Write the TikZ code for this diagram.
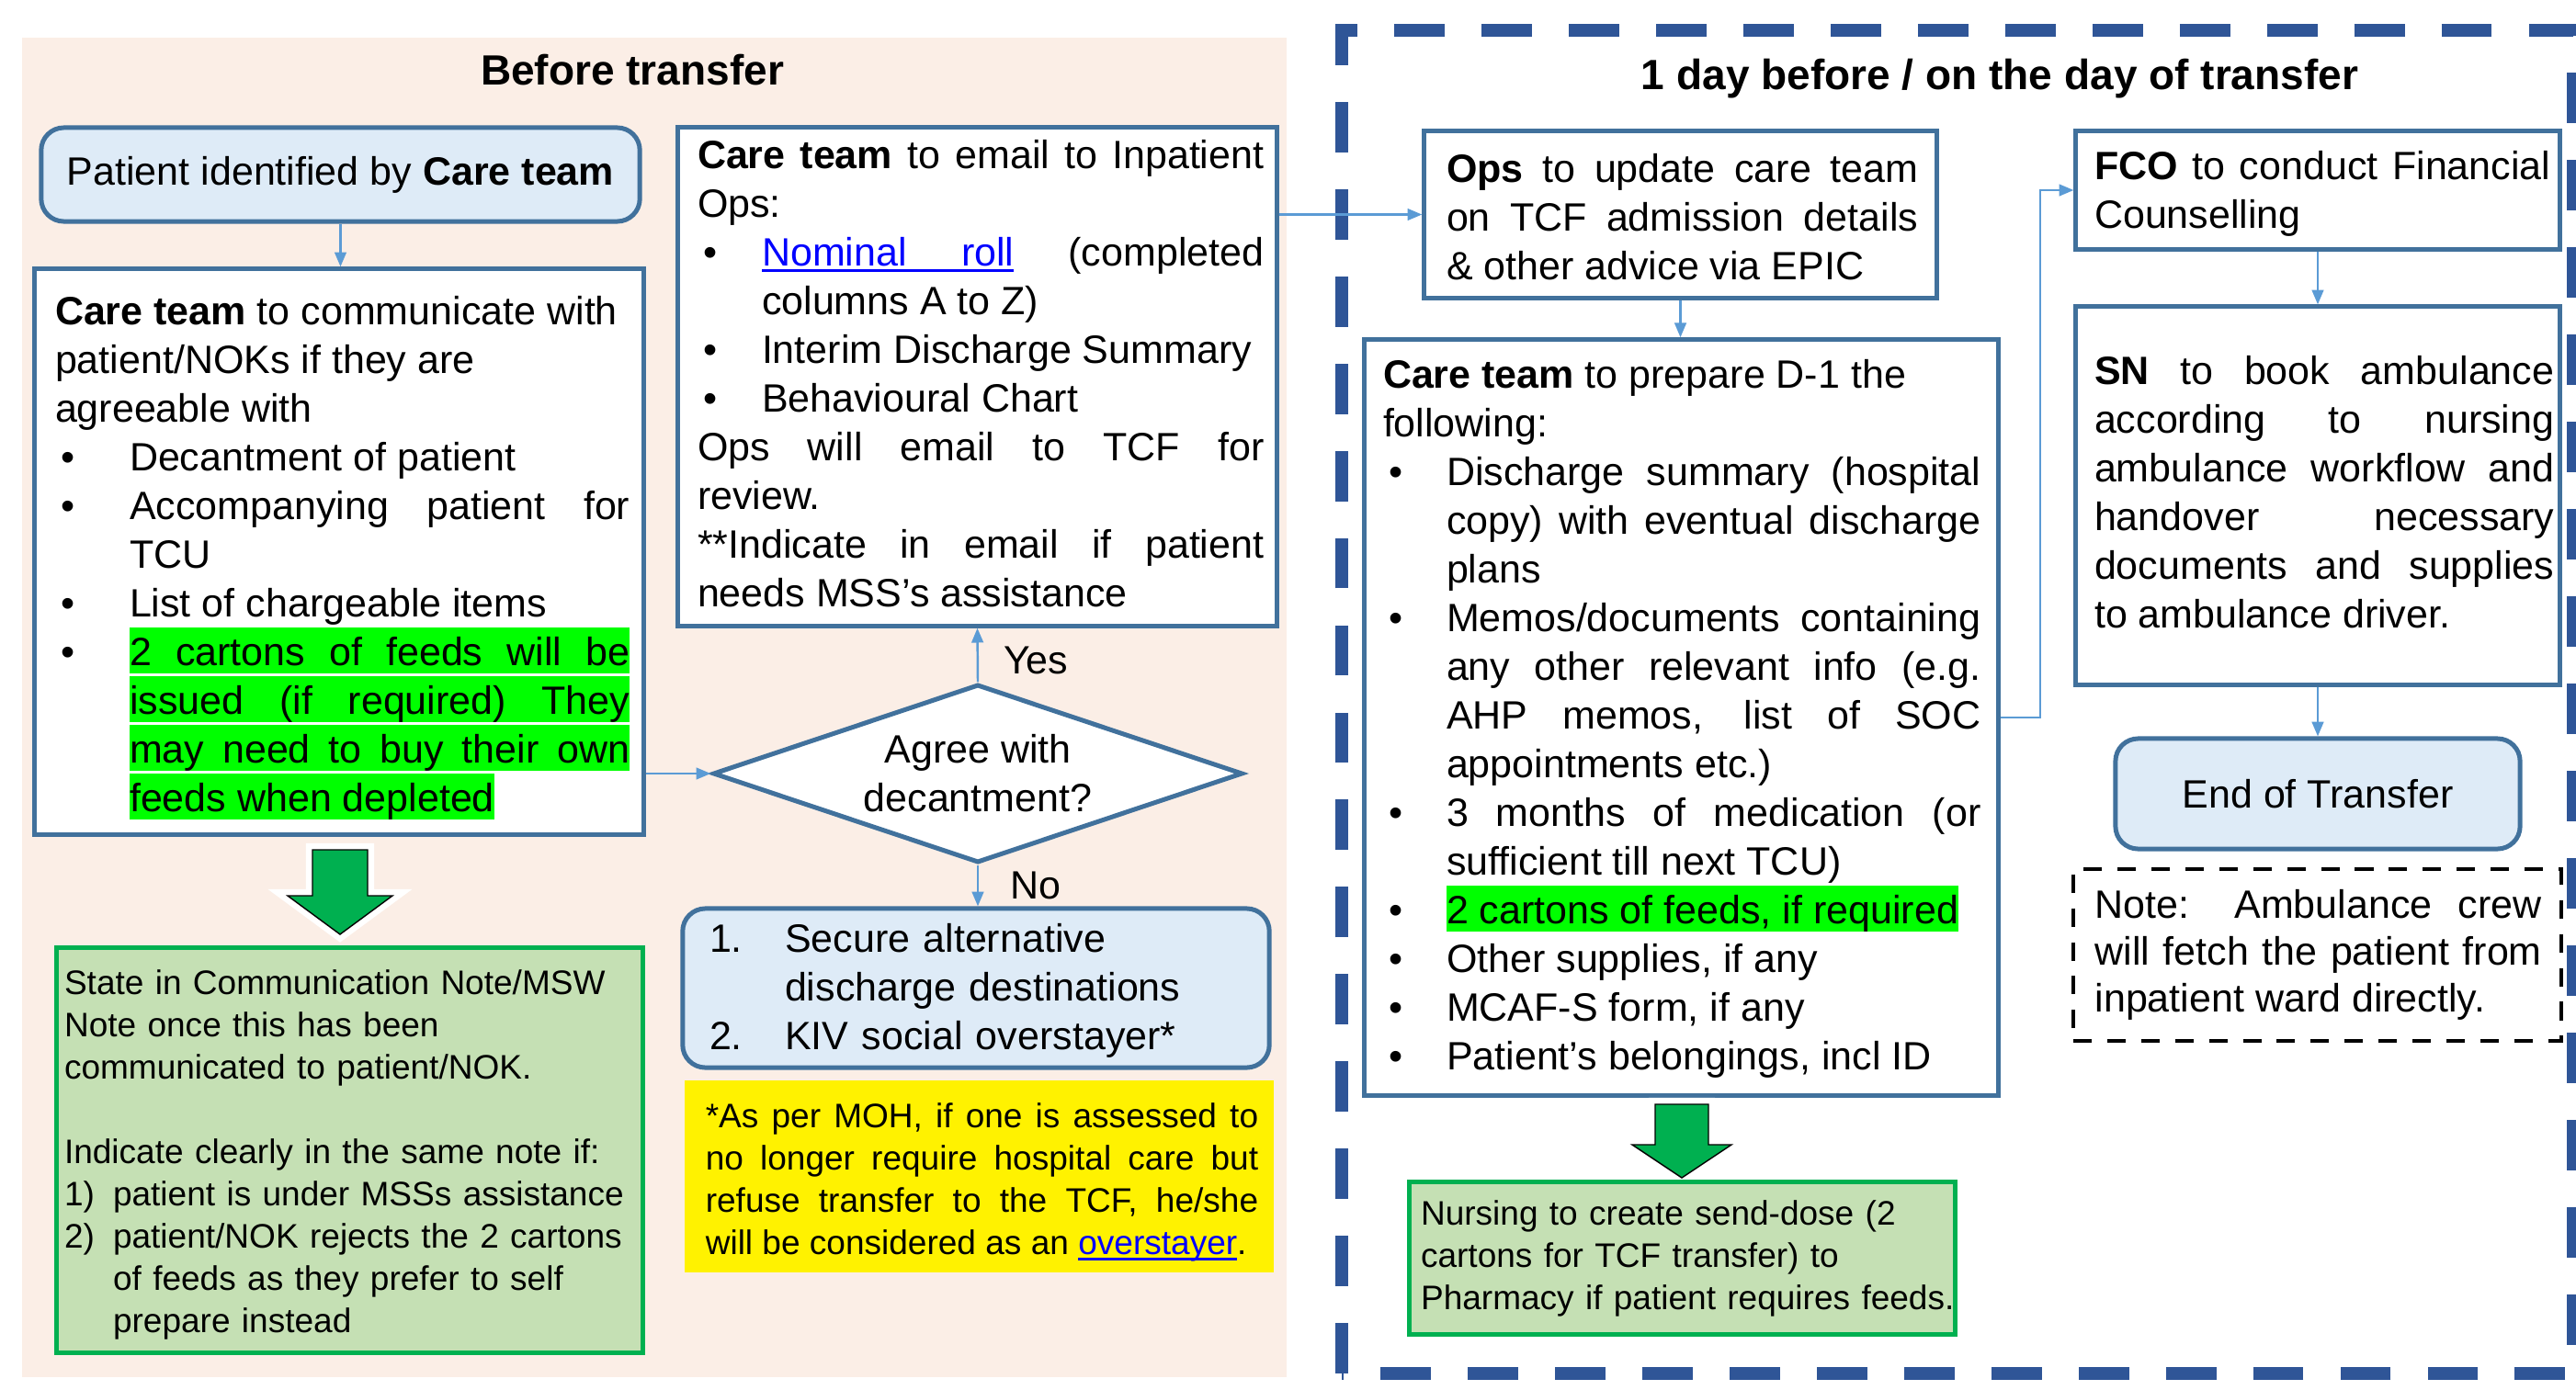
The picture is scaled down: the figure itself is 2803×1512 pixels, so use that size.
\documentclass[tikz,border=0pt]{standalone}
\usepackage{fontspec}
\setmainfont{Liberation Sans}
\usetikzlibrary{shapes.geometric, calc, arrows.meta}

\newdimen\pxu \pxu=0.28453pt
\setlength{\parindent}{0pt}

\definecolor{peach}{HTML}{FBEEE6}
\definecolor{boxblue}{HTML}{41719C}
\definecolor{fillblue}{HTML}{DEEBF7}
\definecolor{connblue}{HTML}{5B9BD5}
\definecolor{frameblue}{HTML}{2F5597}
\definecolor{arrowgreen}{HTML}{00B050}
\definecolor{notegreen}{HTML}{C5E0B4}
\definecolor{hlgreen}{HTML}{00FF00}
\definecolor{linkblue}{HTML}{0000FF}

\newcommand{\mainsize}{\fontsize{12.23pt}{15.08pt}\selectfont}
\newcommand{\smallsize}{\fontsize{10.53pt}{13.09pt}\selectfont}
\newcommand{\titlesize}{\fontsize{13.09pt}{15.7pt}\selectfont\bfseries}

% ragged line break inside a paragraph
\newcommand{\nl}{\hfil\break}
% bullet and numbered lines with hanging indent
\newcommand{\itm}[1][81]{\par\hangindent=#1\pxu\hangafter=1\noindent\makebox[#1\pxu][l]{\hspace*{6\pxu}\textbullet}\ignorespaces}
\newcommand{\numitm}[2][53]{\par\hangindent=#1\pxu\hangafter=1\noindent\makebox[#1\pxu][l]{#2}\ignorespaces}
\newcommand{\numfirst}[2][53]{\hangindent=#1\pxu\hangafter=1\makebox[#1\pxu][l]{#2}\ignorespaces}
% highlighted lines
\newcommand{\hlj}[2]{{\setlength{\fboxsep}{0pt}\colorbox{hlgreen}{\makebox[#1\pxu][s]{\rule[-9\pxu]{0pt}{50\pxu}#2}}}}
\newcommand{\hlr}[1]{{\setlength{\fboxsep}{0pt}\colorbox{hlgreen}{\rule[-9\pxu]{0pt}{50\pxu}#1}}}
% underlined links
\newsavebox\ubox
\newcommand{\uword}[1]{\sbox\ubox{#1}\rlap{\rule[-1.9pt]{\wd\ubox}{0.75pt}}\usebox\ubox}
\newcommand{\uspace}{\leaders\hrule height -1.15pt depth 1.9pt\hskip\fontdimen2\font plus\fontdimen3\font minus\fontdimen4\font}

\tikzset{
  flowbox/.style={draw=boxblue, line width=1.42pt, fill=white, inner sep=0pt},
  roundbox/.style={flowbox, fill=fillblue, rounded corners=7pt, font=\mainsize},
  greenbox/.style={draw=arrowgreen, line width=1.42pt, fill=notegreen, inner sep=0pt},
  notebox/.style={draw=black, line width=1.14pt, dash pattern=on 5.7pt off 4.8pt, inner sep=0pt},
  decision/.style={diamond, aspect=3, draw=boxblue, line width=1.42pt, fill=white, inner sep=0pt, align=center, font=\mainsize},
  txt/.style={inner sep=0pt, anchor=north west, align=justify, font=\mainsize},
  heading/.style={inner sep=0pt, font=\titlesize},
  lbl/.style={inner sep=0pt, font=\mainsize},
  conn/.style={draw=connblue, line width=0.7pt, -{Triangle[length=4.5pt,width=3.6pt]}},
  fatarrow/.style={fill=arrowgreen, preaction={draw=white, line width=4pt}},
  dayframe/.style={draw=frameblue, line width=3.98pt, dash pattern=on 15.6pt off 11.4pt}
}

\begin{document}
\begin{tikzpicture}[x=0.01cm, y=-0.01cm]
  \useasboundingbox (0,0) rectangle (2803,1512);

  % two phases
  \fill[peach] (24,41) rectangle (1400,1499);
  \draw[dayframe] (1460,1495) rectangle (2800,33);

  \node[heading] (before-title) at (688,76) {Before transfer};
  \node[heading] (day-title) at (2176,86) {1 day before / on the day of transfer};

  % before transfer
  \node[roundbox, minimum width=651\pxu, minimum height=102\pxu] (patient) at (370.5,190) {Patient identified by \textbf{Care team}};

  \node[flowbox, minimum width=662\pxu, minimum height=615\pxu] (care) at (369,600.5) {};
  \node[txt, text width=625\pxu] (care-txt) at ($(care.north west)+(24,25)$) {\strut\textbf{Care team} to communicate with\nl patient/NOKs if they are\nl agreeable with
    \itm Decantment of patient
    \itm Accompanying patient for\linebreak TCU
    \itm List of chargeable items
    \itm \hlj{544}{2 cartons of feeds will be}\break
    \hlj{544}{issued (if required) They}\break
    \hlj{544}{may need to buy their own}\break
    \hlr{feeds when depleted}\par};

  \node[flowbox, minimum width=651\pxu, minimum height=542\pxu] (email) at (1063.5,410) {};
  \node[txt, text width=616\pxu] (email-txt) at ($(email.north west)+(23,9)$) {\strut\textbf{Care team} to email to Inpatient\linebreak Ops:
    \itm[70] \textcolor{linkblue}{\uword{Nominal}\uspace\uword{roll}} (completed\linebreak columns A to Z)
    \itm[70] Interim Discharge Summary
    \itm[70] Behavioural Chart
    \par Ops will email to TCF for\linebreak review.
    \par **Indicate in email if patient\linebreak needs MSS’s assistance\par};

  \node[decision, minimum width=576\pxu, minimum height=194\pxu] (agree) at (1064,842) {Agree with\\decantment?};

  \node[roundbox, minimum width=638\pxu, minimum height=173\pxu] (secure) at (1062,1075.5) {};
  \node[txt, align=left, text width=590\pxu] (secure-txt) at ($(secure.north west)+(31,12)$) {\numfirst[82]{1.}\strut Secure alternative\nl discharge destinations
    \numitm[82]{2.}KIV social overstayer*\par};

  \node[fill=yellow, inner sep=0pt, minimum width=641\pxu, minimum height=209\pxu] (moh) at (1065.5,1280.5) {};
  \node[txt, font=\smallsize, text width=601\pxu] (moh-txt) at ($(moh.north west)+(23,19)$) {\strut*As per MOH, if one is assessed to\linebreak no longer require hospital care but\linebreak refuse transfer to the TCF, he/she\linebreak will be considered as an \textcolor{linkblue}{\uword{overstayer}}.\par};

  \coordinate (feed-arrow) at (370,925);
  \draw[fatarrow] (feed-arrow) ++(-30,0) -- ++(60,0) -- ++(0,50) -- ++(27,0) -- ++(-57,42) -- ++(-57,-42) -- ++(27,0) -- cycle;

  \node[greenbox, minimum width=637\pxu, minimum height=440\pxu] (state) at (380.5,1252) {};
  \node[txt, font=\smallsize, align=left, text width=614\pxu] (state-txt) at ($(state.north west)+(10,20)$) {\strut State in Communication Note/MSW\nl Note once this has been\nl communicated to patient/NOK.\par\mbox{}\par Indicate clearly in the same note if:
    \numitm{1)}patient is under MSSs assistance
    \numitm{2)}patient/NOK rejects the 2 cartons\nl of feeds as they prefer to self\nl prepare instead\par};

  % 1 day before / on the day
  \node[flowbox, minimum width=557\pxu, minimum height=181\pxu] (ops) at (1828.5,233.5) {};
  \node[txt, text width=513\pxu] (ops-txt) at ($(ops.north west)+(26,20)$) {\strut\textbf{Ops} to update care team\linebreak on TCF admission details\linebreak \& other advice via EPIC\par};

  \node[flowbox, minimum width=689\pxu, minimum height=822\pxu] (prep) at (1829.5,781) {};
  \node[txt, text width=650\pxu] (prep-txt) at ($(prep.north west)+(22,17)$) {\strut\textbf{Care team} to prepare D-1 the\nl following:
    \itm[69] Discharge summary (hospital\linebreak copy) with eventual discharge\linebreak plans
    \itm[69] Memos/documents containing\linebreak any other relevant info (e.g.\linebreak AHP memos, list of SOC\linebreak appointments etc.)
    \itm[69] 3 months of medication (or\linebreak sufficient till next TCU)
    \itm[69] \hlr{2 cartons of feeds, if required}
    \itm[69] Other supplies, if any
    \itm[69] MCAF-S form, if any
    \itm[69] Patient’s belongings, incl ID\par};

  \coordinate (dose-arrow) at (1830,1202);
  \draw[fatarrow] (dose-arrow) ++(-29,0) -- ++(58,0) -- ++(0,44) -- ++(25,0) -- ++(-54,36) -- ++(-54,-36) -- ++(25,0) -- cycle;

  \node[greenbox, minimum width=593\pxu, minimum height=165\pxu] (send) at (1830.5,1369.5) {};
  \node[txt, font=\smallsize, align=left, text width=590\pxu] (send-txt) at ($(send.north west)+(14,16)$) {\strut Nursing to create send-dose (2\nl cartons for TCF transfer) to\nl Pharmacy if patient requires feeds.\par};

  \node[flowbox, minimum width=526\pxu, minimum height=128\pxu] (fco) at (2522,207) {};
  \node[txt, text width=496\pxu] (fco-txt) at ($(fco.north west)+(22,17)$) {\strut\textbf{FCO} to conduct Financial\linebreak Counselling\par};

  \node[flowbox, minimum width=526\pxu, minimum height=411\pxu] (sn) at (2522,539.5) {};
  \node[txt, text width=500\pxu] (sn-txt) at ($(sn.north west)+(22,49)$) {\strut\textbf{SN} to book ambulance\linebreak according to nursing\linebreak ambulance workflow and\linebreak handover necessary\linebreak documents and supplies\linebreak to ambulance driver.\par};

  \node[roundbox, minimum width=440\pxu, minimum height=120\pxu] (finish) at (2522,864) {End of Transfer};

  \node[notebox, minimum width=531\pxu, minimum height=187\pxu] (note) at (2521.5,1039.5) {};
  \node[txt, font=\fontsize{12.23pt}{14.5pt}\selectfont, text width=486\pxu] (note-txt) at ($(note.north west)+(25,19)$) {\strut Note: Ambulance crew\linebreak will fetch the patient from\linebreak inpatient ward directly.\par};

  % connectors
  \draw[conn] (patient.south) -- (patient.south |- care.north);
  \draw[conn] (care.east |- agree.west) -- (agree.west);
  \draw[conn] (agree.north) -- node[lbl, anchor=west, pos=0.4, xshift=27\pxu] (yes-lbl) {Yes} (email.south);
  \draw[conn] (agree.south) -- node[lbl, anchor=west, pos=0.5, xshift=34\pxu] (no-lbl) {No} (agree.south |- secure.north);
  \draw[conn] (email.east |- ops.west) -- (ops.west);
  \draw[conn] (ops.south) -- (ops.south |- prep.north);
  \draw[conn] (prep.east) -- ++(43,0) |- (fco.west);
  \draw[conn] (fco.south) -- (sn.north);
  \draw[conn] (sn.south) -- (finish.north);

\end{tikzpicture}
\end{document}
